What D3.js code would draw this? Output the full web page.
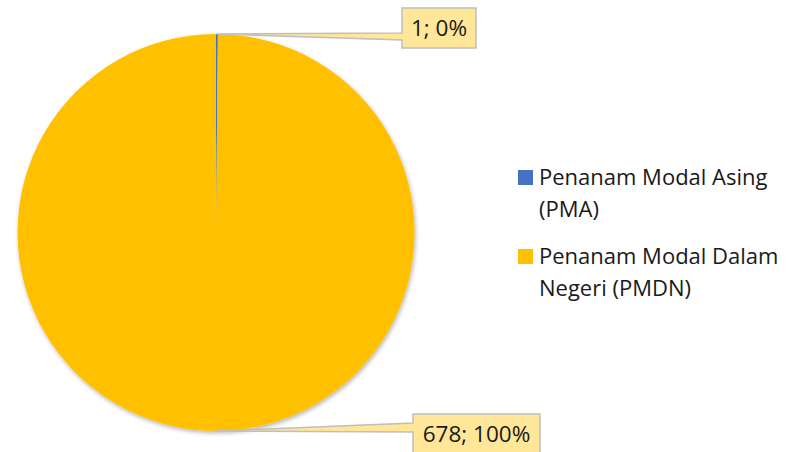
<!DOCTYPE html>
<html>
<head>
    <meta charset="utf-8" />
    <title>PMA vs PMDN</title>
    <style>
        body {
            margin: 0;
            background: #fff;
            font-family: "Open Sans", "Noto Sans", sans-serif;
        }

        .legend-label {
            font-size: 22px;
            fill: #1a1a1a;
        }

        .callout-text {
            font-size: 22.5px;
            fill: #1a1a1a;
            text-anchor: middle;
        }
    </style>
</head>
<body>
    <script src="https://d3js.org/d3.v7.min.js"></script>
    <script>
        // data
        let categories = ['Penanam Modal Asing (PMA)', 'Penanam Modal Dalam Negeri (PMDN)']
        let legendLines = [['Penanam Modal Asing', '(PMA)'], ['Penanam Modal Dalam', 'Negeri (PMDN)']]
        let values = [1, 678]
        let colors = ['#4472C4', '#FFC000']

        let width = 787,
            height = 452,
            cx = 216,
            cy = 232.5,
            radius = 198.5

        let total = d3.sum(values)
        let pct = d3.format('.0%')

        let svg = d3.select('body')
                    .append('svg')
                    .attr('width', width)
                    .attr('height', height)

        let defs = svg.append('defs')
        let shadow = defs.append('filter')
                        .attr('id', 'shadow')
                        .attr('x', '-10%').attr('y', '-10%')
                        .attr('width', '120%').attr('height', '120%')
        shadow.append('feDropShadow')
            .attr('dx', 1)
            .attr('dy', 2)
            .attr('stdDeviation', 2)
            .attr('flood-color', '#000')
            .attr('flood-opacity', 0.3)

        let pie = d3.pie().sort(null).value(function (d) { return d })
        let arcs = pie(values)
        let arc = d3.arc().innerRadius(0).outerRadius(radius)

        let pieGroup = svg.append('g')
                        .attr('transform', `translate(${cx}, ${cy})`)
                        .attr('filter', 'url(#shadow)')

        pieGroup.selectAll('path')
            .data(arcs)
            .enter()
                .append('path')
                .attr('d', arc)
                .attr('fill', function (d, i) { return colors[i] })

        // callout boxes, pointer runs from the slice rim to the box
        let boxes = [
            { x: 402, y: 8, w: 74, h: 40 },
            { x: 413, y: 414, w: 127, h: 40 }
        ]
        let pointerBase = [[33, 40], [423, 432]]

        let calloutGroup = svg.append('g')

        arcs.forEach(function (d, i) {
            let mid = (d.startAngle + d.endAngle) / 2
            let ax = cx + radius * Math.sin(mid)
            let ay = cy - radius * Math.cos(mid)
            let b = boxes[i]
            let pb = pointerBase[i]
            let pts = [
                [ax, ay],
                [b.x, pb[0]],
                [b.x, b.y],
                [b.x + b.w, b.y],
                [b.x + b.w, b.y + b.h],
                [b.x, b.y + b.h],
                [b.x, pb[1]]
            ]
            calloutGroup.append('path')
                .attr('d', d3.line()(pts) + 'Z')
                .attr('fill', '#FFE699')
                .attr('stroke', '#BFBFBF')
                .attr('stroke-width', 1.5)
                .attr('stroke-linejoin', 'miter')

            calloutGroup.append('text')
                .classed('callout-text', true)
                .attr('x', b.x + b.w / 2)
                .attr('y', b.y + b.h / 2 + 8)
                .text(values[i] + '; ' + pct(values[i] / total))
        })

        // legend
        let legend = svg.append('g')
                        .attr('transform', 'translate(518, 170)')

        let legendItems = legend.selectAll('g')
                            .data(categories)
                            .enter()
                                .append('g')
                                .attr('transform', function (d, i) {
                                    return `translate(0, ${i * 79})`
                                })

        legendItems.append('rect')
            .attr('width', 15)
            .attr('height', 15)
            .attr('fill', function (d, i) { return colors[i] })

        legendItems.append('text')
            .classed('legend-label', true)
            .selectAll('tspan')
            .data(function (d, i) { return legendLines[i] })
            .enter()
                .append('tspan')
                .attr('x', 21)
                .attr('y', function (d, j) { return 15 + j * 32 })
                .text(function (d) { return d })
    </script>
</body>
</html>
